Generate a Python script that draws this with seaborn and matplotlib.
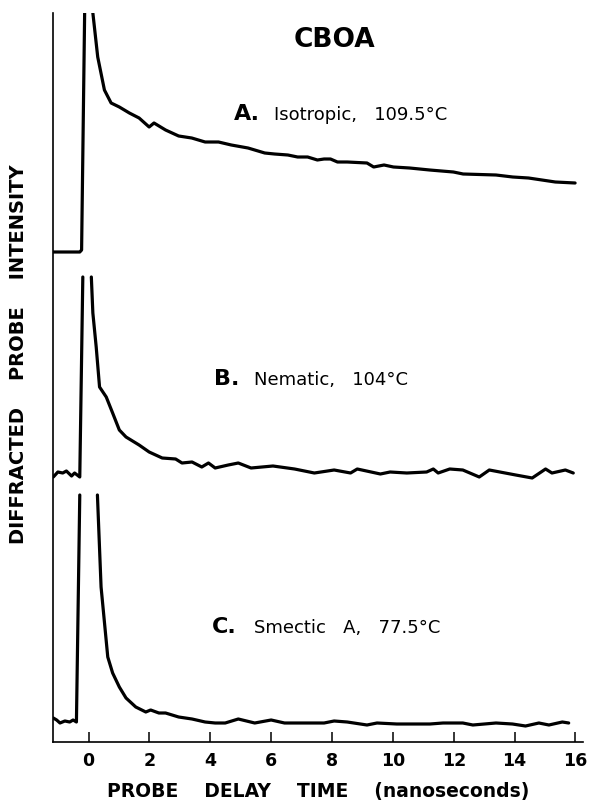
import numpy as np
import pandas as pd
import matplotlib
matplotlib.use("Agg")
import matplotlib.pyplot as plt
import seaborn as sns

# ======================================
# Data
# (signal above each trace's own baseline, arbitrary units; nan = clipped spike)
# ======================================

time_a = [-1.17, -0.29, -0.23, -0.13, np.nan, 0.14, 0.30, 0.52, 0.74, 1.01, 1.34, 1.66,
          1.99, 2.15, 2.53, 2.96, 3.39, 3.83, 4.27, 4.69, 5.24, 5.79, 6.11, 6.55, 6.87,
          7.20, 7.52, 7.74, 7.95, 8.18, 8.50, 9.15, 9.37, 9.71, 10.02, 10.55, 11.21,
          11.99, 12.31, 13.39, 13.94, 14.46, 15.34, 15.99]
signal_a = [0, 0, 2, 239, np.nan, 239, 195, 162, 149, 145, 139, 134,
            125, 129, 122, 116, 114, 110, 110, 107, 104, 99, 98, 97, 95,
            95, 92, 93, 93, 90, 90, 89, 85, 87, 85, 84, 82,
            80, 78, 77, 75, 74, 70, 69]

time_b = [-1.16, -1.01, -0.85, -0.73, -0.56, -0.46, -0.29, -0.19, np.nan, 0.09, 0.14,
          0.25, 0.36, 0.58, 0.79, 1.01, 1.23, 1.66, 1.99, 2.42, 2.86, 3.07, 3.40, 3.72,
          3.94, 4.16, 4.59, 4.92, 5.34, 6.06, 6.77, 7.42, 8.07, 8.61, 8.83, 9.59, 9.91,
          10.46, 11.11, 11.33, 11.49, 11.87, 12.30, 12.84, 13.17, 14.04, 14.58, 15.02,
          15.23, 15.67, 15.93]
signal_b = [-4, 1, 0, 2, -3, 0, -4, 196, np.nan, 196, 160,
            126, 86, 76, 60, 43, 36, 28, 21, 15, 14, 10, 11, 6,
            10, 5, 8, 10, 5, 7, 4, 0, 3, 0, 4, -1, 1,
            0, 1, 4, 0, 4, 3, -4, 3, -2, -5, 4,
            0, 3, 0]

time_c = [-1.16, -1.05, -0.94, -0.78, -0.62, -0.51, -0.40, -0.29, np.nan, 0.29, 0.41,
          0.63, 0.79, 1.01, 1.23, 1.55, 1.88, 2.04, 2.31, 2.53, 2.96, 3.40, 3.83, 4.16,
          4.49, 4.92, 5.46, 6.00, 6.44, 7.74, 8.07, 8.50, 9.15, 9.48, 10.13, 11.22,
          11.65, 12.30, 12.63, 13.39, 13.93, 14.36, 14.80, 15.13, 15.57, 15.78]
signal_c = [4, 2, -1, 1, 0, 2, 0, 227, np.nan, 227, 135,
            65, 49, 35, 24, 15, 10, 12, 9, 9, 5, 3, 0, -1,
            -1, 3, -1, 2, -1, -1, 1, 0, -3, -1, -2, -2,
            -1, -1, -3, -1, -2, -4, -1, -3, 0, -1]

trace_labels = ["A.", "B.", "C."]
trace_phases = ["Isotropic,   109.5\u00b0C", "Nematic,   104\u00b0C", "Smectic   A,   77.5\u00b0C"]
x_ticks = [0, 2, 4, 6, 8, 10, 12, 14, 16]

# ======================================
# Build a long table, one row per point
# ======================================

offsets = [490, 269, 20]   # vertical stacking of the three traces
frames = []
for name, t, s, off in zip(trace_labels, [time_a, time_b, time_c],
                           [signal_a, signal_b, signal_c], offsets):
    t = np.array(t, dtype=float)
    s = np.array(s, dtype=float)
    seg = np.cumsum(np.isnan(t))          # split at the clipped spike
    d = pd.DataFrame({"time": t, "intensity": s + off,
                      "seg": [f"{name}{k}" for k in seg]})
    frames.append(d.dropna())
df = pd.concat(frames, ignore_index=True)

# ======================================
# Plot
# ======================================

sns.set_style("ticks")
plt.rcParams["font.family"] = ["DejaVu Sans"]
plt.rcParams["text.color"] = "black"
plt.rcParams["xtick.color"] = "black"
plt.rcParams["axes.labelcolor"] = "black"

W, H = 590, 805
fig = plt.figure(figsize=(W / 100, H / 100), dpi=100)
ax = fig.add_axes([53 / W, 1 - 742 / H, 530 / W, 729 / H])

sns.lineplot(data=df, x="time", y="intensity", units="seg", estimator=None,
             sort=False, color="black", linewidth=2.3, ax=ax)

ax.set_xlim(-1.17, 16.25)
ax.set_ylim(0, 729)
ax.set_xticks(x_ticks)
ax.set_xticklabels([str(v) for v in x_ticks], fontsize=12.5, fontweight="bold")
ax.set_yticks([])
ax.tick_params(axis="x", direction="in", length=7, width=1.1, pad=7, color="black")
for side in ["top", "right"]:
    ax.spines[side].set_visible(False)
for side in ["left", "bottom"]:
    ax.spines[side].set_linewidth(1.2)
    ax.spines[side].set_color("black")

ax.set_xlabel("PROBE    DELAY    TIME    (nanoseconds)", fontsize=13.5, fontweight="bold",
              labelpad=9)
ax.set_ylabel("")
fig.text(19 / W, 1 - 354 / H, "DIFFRACTED    PROBE    INTENSITY", rotation=90,
         fontsize=14, fontweight="bold", ha="center", va="center")

# titles and trace annotations (pixel positions in the figure)
def put(x, y, s, **kw):
    fig.text(x / W, 1 - y / H, s, va="baseline", **kw)

put(334, 47, "CBOA", fontsize=19, fontweight="bold", ha="center")
label_pos = [(234, 120, 274), (214, 385, 254), (212, 633, 254)]
for lab, phase, (xl, yb, xp) in zip(trace_labels, trace_phases, label_pos):
    put(xl, yb, lab, fontsize=16, fontweight="bold", ha="left")
    put(xp, yb, phase, fontsize=13, ha="left")

fig.savefig("out.png", dpi=100)
